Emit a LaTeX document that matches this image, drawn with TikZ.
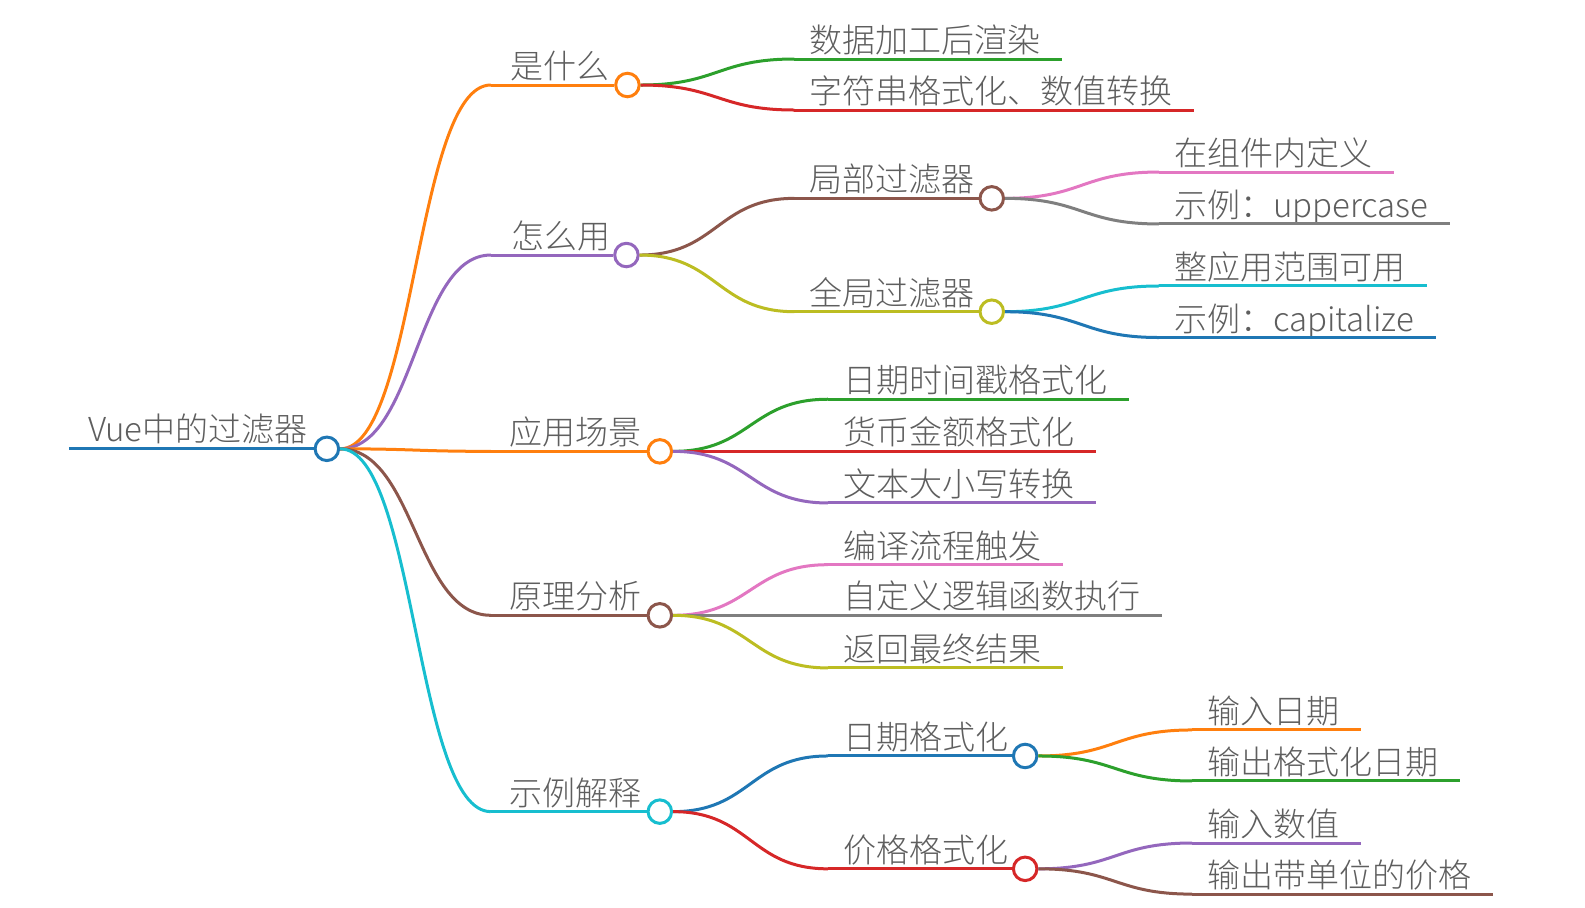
\documentclass[tikz,border=0pt]{standalone}
\usepackage{fontspec}
\setmainfont{Noto Sans CJK SC Light}
\usetikzlibrary{calc}
\definecolor{cBlue}{HTML}{1F77B4}
\definecolor{cOrange}{HTML}{FF7F0E}
\definecolor{cGreen}{HTML}{2CA02C}
\definecolor{cRed}{HTML}{D62728}
\definecolor{cPurple}{HTML}{9467BD}
\definecolor{cBrown}{HTML}{8C564B}
\definecolor{cPink}{HTML}{E377C2}
\definecolor{cGray}{HTML}{7F7F7F}
\definecolor{cOlive}{HTML}{BCBD22}
\definecolor{cCyan}{HTML}{17BECF}
\definecolor{txt}{HTML}{5E5E5E}
\newcommand\mmlink[3]{\draw[br=#1] let \p1=(#2), \p2=(#3) in (\p1) .. controls ({0.5*\x1+0.5*\x2},\y1) and ({0.5*\x1+0.5*\x2},\y2) .. (\p2);}
% leaf: name, color, parent anchor, x0, y, text
\newcommand\mmleaf[6]{%
  \coordinate (#1x) at (#4,#5);
  \node[lbl] (#1) at (#4+15,#5-6.4) {#6};
  \mmlink{#2}{#3}{#1x}
  \draw[br=#2] (#1x) -- ($(#1.east |- #1x)+(21,0)$);}
% inner: name, color, parent anchor, x0, y, text x, circle x, text
\newcommand\mmmid[8]{%
  \coordinate (#1x) at (#4,#5);
  \node[dot=#2] (#1c) at (#7,#5) {};
  \node[lbl] (#1) at (#6,#5-6.4) {#8};
  \mmlink{#2}{#3}{#1x}
  \draw[br=#2] (#1x) -- (#1c.west);}
\begin{document}
\begin{tikzpicture}[x=1.012pt,y=-1.012pt,
  lbl/.style={anchor=base west,inner sep=0pt,text=txt,font=\fontsize{33pt}{36pt}\selectfont},
  dot/.style={circle,draw=#1,fill=white,line width=3pt,minimum size=23.5pt,inner sep=0pt},
  br/.style={draw=#1,line width=3pt}]
\useasboundingbox (0,0) rectangle (1566.2,897.2);
% root
\coordinate (rootl) at (68,443.5);
\node[dot=cBlue] (rootc) at (323,443.5) {};
\node[lbl] (root) at (87,443.5-6.9) {Vue中的过滤器};
\draw[br=cBlue] (rootl) -- (rootc.west);
% level 1
\mmmid{a}{cOrange}{rootc.east}{485}{84}{504}{620}{是什么}
\mmmid{b}{cPurple}{rootc.east}{485}{252}{505}{619}{怎么用}
\mmmid{c}{cOrange}{rootc.east}{485}{446}{503}{652}{应用场景}
\mmmid{d}{cBrown}{rootc.east}{485}{608}{503}{652}{原理分析}
\mmmid{e}{cCyan}{rootc.east}{485}{802}{503}{652}{示例解释}
% 是什么
\mmleaf{a1}{cGreen}{ac.east}{785}{58.3}{数据加工后渲染}
\mmleaf{a2}{cRed}{ac.east}{785}{108.7}{字符串格式化、数值转换}
% 怎么用
\mmmid{b1}{cBrown}{bc.east}{785}{196}{800}{980}{局部过滤器}
\mmmid{b2}{cOlive}{bc.east}{785}{308}{800}{980}{全局过滤器}
\mmleaf{b11}{cPink}{b1c.east}{1145}{170}{在组件内定义}
\mmleaf{b12}{cGray}{b1c.east}{1145}{221.3}{示例：uppercase}
\mmleaf{b21}{cCyan}{b2c.east}{1145}{282.6}{整应用范围可用}
\mmleaf{b22}{cBlue}{b2c.east}{1145}{333.5}{示例：capitalize}
% 应用场景
\mmleaf{c1}{cGreen}{cc.east}{818}{394.5}{日期时间戳格式化}
\mmleaf{c2}{cRed}{cc.east}{818}{446}{货币金额格式化}
\mmleaf{c3}{cPurple}{cc.east}{818}{497}{文本大小写转换}
% 原理分析
\mmleaf{d1}{cPink}{dc.east}{818}{558}{编译流程触发}
\mmleaf{d2}{cGray}{dc.east}{818}{608}{自定义逻辑函数执行}
\mmleaf{d3}{cOlive}{dc.east}{818}{660}{返回最终结果}
% 示例解释
\mmmid{e1}{cBlue}{ec.east}{818}{747}{833}{1013}{日期格式化}
\mmmid{e2}{cRed}{ec.east}{818}{858.5}{833}{1013}{价格格式化}
\mmleaf{e11}{cOrange}{e1c.east}{1178}{721.3}{输入日期}
\mmleaf{e12}{cGreen}{e1c.east}{1178}{771.7}{输出格式化日期}
\mmleaf{e21}{cPurple}{e2c.east}{1178}{833}{输入数值}
\mmleaf{e22}{cBrown}{e2c.east}{1178}{883.5}{输出带单位的价格}
\end{tikzpicture}
\end{document}
